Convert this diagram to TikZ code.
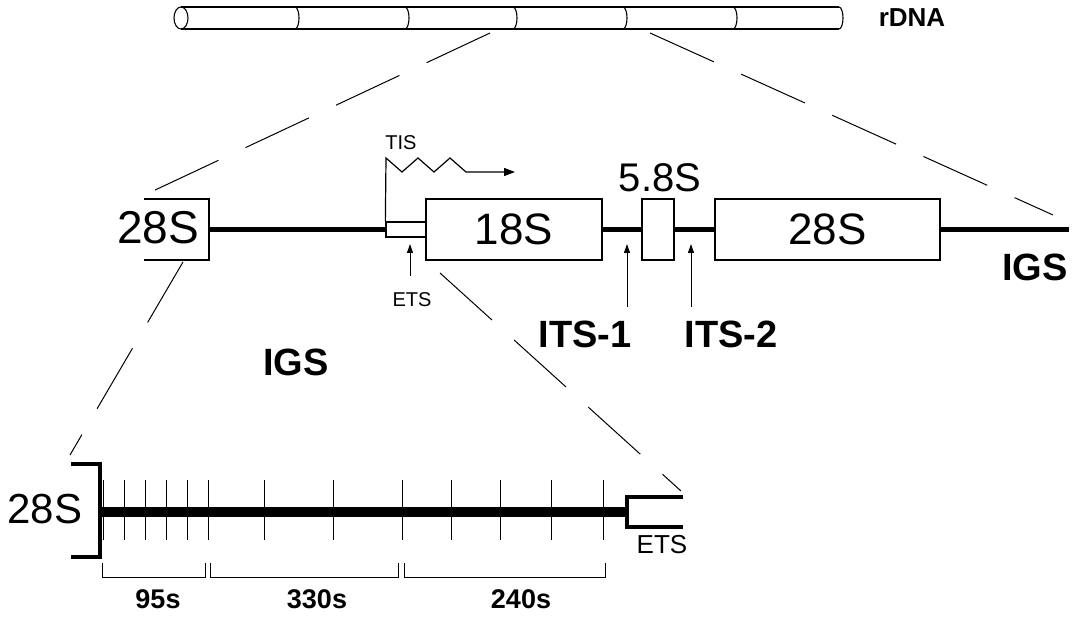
\documentclass[tikz,border=0pt]{standalone}
\usepackage{fontspec}
\setmainfont{Liberation Sans}
\usetikzlibrary{arrows.meta}
\begin{document}
\begin{tikzpicture}[x=1pt,y=-1pt,
  gbox/.style={draw, line width=1.3pt, inner sep=0pt, fill=white},
  gtext/.style={inner sep=0pt, font=\fontsize{44}{50}\selectfont},
  boldlbl/.style={inner sep=0pt, font=\bfseries\fontsize{38}{44}\selectfont},
  smalllbl/.style={inner sep=0pt, font=\fontsize{20}{24}\selectfont},
  numlbl/.style={inner sep=0pt, font=\bfseries\fontsize{27}{32}\selectfont},
  dna/.style={line width=5pt},
  igsline/.style={line width=10pt},
  bracketline/.style={line width=4pt, line cap=butt, line join=miter},
  thin/.style={line width=1pt},
  zoomline/.style={line width=1pt, dash pattern=on 70pt off 30pt},
  uparrow/.style={line width=1pt, -{Triangle[length=9pt,width=6pt]}},
  cyl/.style={line width=1.1pt}
]
\useasboundingbox (0,0) rectangle (1075,617);

% ---------- rDNA cylinder ----------
\draw[cyl] (181,7) -- (839,7);
\draw[cyl] (181,29) -- (839,29);
\draw[cyl] (181,18) ellipse [x radius=7, y radius=11];
\foreach \xx in {295,405,513,623,733}
  \draw[cyl] (\xx,7) arc[start angle=-90, end angle=90, x radius=4, y radius=11];
\draw[cyl] (839,7) arc[start angle=-90, end angle=90, x radius=4, y radius=11];
\node[inner sep=0pt, font=\bfseries\fontsize{26}{30}\selectfont] (rdna) at (912,18) {rDNA};

% ---------- zoom lines from cylinder ----------
\coordinate (cylL) at (490,33);
\coordinate (cylR) at (650,33);
\coordinate (zL) at (153,191);
\coordinate (zR) at (1053,215);
\draw[zoomline] (cylL) -- (zL);
\draw[zoomline] (cylR) -- (zR);

% ---------- gene unit ----------
\coordinate (b28Le) at (209,229.5);
\coordinate (igsEnd) at (1069,229.5);
\node[gbox, minimum width=40pt, minimum height=15pt] (etsbox) at (406,229.5) {};
\node[gbox, gtext, minimum width=176pt, minimum height=61pt] (b18) at (514,229.5) {18S};
\node[gbox, minimum width=32pt, minimum height=61pt] (b58) at (658,229.5) {};
\node[gbox, gtext, minimum width=225pt, minimum height=61pt] (b28R) at (827.5,229.5) {28S};

\draw[dna] (b28Le) -- (etsbox.west);
\draw[dna] (b18.east) -- (b58.west);
\draw[dna] (b58.east) -- (b28R.west);
\draw[dna] (b28R.east) -- (igsEnd);

% left partial 28S box
\draw[line width=1.3pt] (144,199) -- (209,199) -- (209,260) -- (144,260);
\node[gtext, font=\fontsize{46}{52}\selectfont] (t28L) at (158,228) {28S};

% TIS
\node[smalllbl] (tis) at (401,143) {TIS};
\coordinate (tisTop) at (386,158);
\coordinate (tisEnd) at (515,172);
\draw[line width=1.2pt, line join=miter, -{Triangle[length=11pt,width=8pt]}]
  (etsbox.north west) -- (tisTop) -- (402,172) -- (418,158) -- (434,172)
  -- (450,158) -- (466,172) -- (tisEnd);

% 5.8S label
\node[inner sep=0pt, font=\fontsize{40}{46}\selectfont] (t58) at (660,178) {5.8S};

% ETS arrow & label
\node[smalllbl] (etsl) at (412,300) {ETS};
\coordinate (etsA0) at (410,276);
\coordinate (etsA1) at (410,244);
\draw[uparrow] (etsA0) -- (etsA1);

% ITS arrows & labels
\node[boldlbl] (its1) at (585,334) {ITS-1};
\node[boldlbl] (its2) at (731,334) {ITS-2};
\coordinate (i1a) at (627,307);
\coordinate (i1b) at (627,244);
\coordinate (i2a) at (691,307);
\coordinate (i2b) at (691,244);
\draw[uparrow] (i1a) -- (i1b);
\draw[uparrow] (i2a) -- (i2b);

% IGS labels
\node[boldlbl] (igsR) at (1035,267) {IGS};
\node[boldlbl] (igsM) at (296,362) {IGS};

% ---------- zoom lines to IGS ----------
\coordinate (zl2a) at (183,262);
\coordinate (zl2b) at (70,455);
\coordinate (zr2a) at (440,273);
\coordinate (zr2b) at (681,491);
\draw[zoomline] (zl2a) -- (zl2b);
\draw[zoomline] (zr2a) -- (zr2b);

% ---------- IGS detail ----------
\node[inner sep=0pt, font=\fontsize{42}{48}\selectfont] (t28B) at (45,509) {28S};
\coordinate (igsA) at (100,511.5);
\coordinate (igsB) at (627,511.5);
\draw[igsline] (igsA) -- (igsB);
\draw[bracketline] (71,464) -- (100,464) -- (100,557) -- (71,557);
\draw[line width=3.5pt, line join=miter] (683,497) -- (627,497) -- (627,527) -- (683,527);
\node[inner sep=0pt, font=\fontsize{26}{30}\selectfont] (etsB) at (662,545) {ETS};
\foreach \xx in {103,124,145,166,187,208,264,333,402,451,500,551,603}
  \draw[thin] (\xx,480) -- (\xx,540);

% repeat brackets
\draw[line width=0.8pt] (102,563) -- (102,577) -- (205,577) -- (205,563);
\draw[line width=0.8pt] (210,563) -- (210,577) -- (398,577) -- (398,563);
\draw[line width=0.8pt] (404,563) -- (404,577) -- (605,577) -- (605,563);
\node[numlbl] (n95) at (158,599) {95s};
\node[numlbl] (n330) at (317,599) {330s};
\node[numlbl] (n240) at (521,599) {240s};
\end{tikzpicture}
\end{document}
